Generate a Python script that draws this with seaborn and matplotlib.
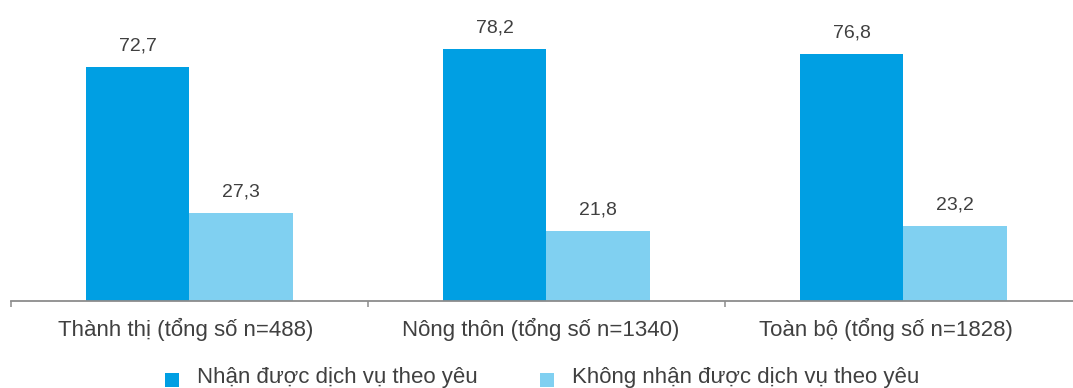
import matplotlib
matplotlib.use("Agg")
import matplotlib.pyplot as plt
import matplotlib.transforms as mtransforms
from matplotlib.patches import Patch, Rectangle
from matplotlib.legend_handler import HandlerPatch
import seaborn as sns
import pandas as pd

# Survey groups and share of respondents (%) per outcome
groups = ["Thành thị (tổng số n=488)", "Nông thôn (tổng số n=1340)", "Toàn bộ (tổng số n=1828)"]
series = ["Nhận được dịch vụ theo yêu", "Không nhận được dịch vụ theo yêu"]
received = [72.7, 78.2, 76.8]
not_received = [27.3, 21.8, 23.2]
colors = ["#009FE3", "#80D0F1"]

df = pd.DataFrame({
    "group": groups * 2,
    "series": [series[0]] * 3 + [series[1]] * 3,
    "value": received + not_received,
})

sns.set_theme(style="white")
plt.rcParams["font.family"] = ["Liberation Sans", "DejaVu Sans"]
text_color = "#404040"

W, H = 1073, 388
fig = plt.figure(figsize=(W / 100, H / 100), dpi=100)
ax = fig.add_axes([11 / W, (H - 301) / H, (1082 - 11) / W, 301 / H])

sns.barplot(data=df, x="group", y="value", hue="series", palette=colors,
            width=0.58, gap=0, saturation=1, linewidth=0, edgecolor="none",
            ax=ax, legend=False)

ax.set_xlim(-0.5, 2.5)
ax.set_ylim(0, 93.5)
ax.set_xlabel("")
ax.set_ylabel("")
ax.set_yticks([])

for spine in ["top", "right", "left"]:
    ax.spines[spine].set_visible(False)
ax.spines["bottom"].set_color("#8C8C8C")
ax.spines["bottom"].set_linewidth(1.3)

ax.set_xticks([-0.5, 0.5, 1.5, 2.5], minor=True)
ax.tick_params(axis="x", which="minor", direction="out", length=4.5, width=1.1,
               color="#8C8C8C", bottom=True)
ax.tick_params(axis="x", which="major", length=0, pad=12, labelsize=16,
               labelcolor=text_color)

# nudge category labels left (the last one more, keeping it clear of the edge)
shifts_px = [-4, -6, -18]
for lbl, dx in zip(ax.get_xticklabels(), shifts_px):
    lbl.set_transform(lbl.get_transform() +
                      mtransforms.ScaledTranslation(dx / 100, 0, fig.dpi_scale_trans))

for container in ax.containers:
    labels = [f"{v:.1f}".replace(".", ",") for v in container.datavalues]
    ax.bar_label(container, labels=labels, padding=9, fontsize=14, color=text_color)


def lowered_square(legend, orig_handle, xdescent, ydescent, width, height, fontsize):
    return Rectangle((-xdescent, -ydescent - 3.6), width, height)


handles = [Patch(facecolor=c, edgecolor="none") for c in colors]
fig.legend(handles, series, loc="lower left", bbox_to_anchor=(156 / W, -9 / H),
           ncol=2, frameon=False, fontsize=16, handlelength=0.62, handleheight=0.62,
           handletextpad=0.82, columnspacing=2.83, labelcolor=text_color,
           borderaxespad=0,
           handler_map={Patch: HandlerPatch(patch_func=lowered_square)})

fig.savefig("out.png", dpi=100)
